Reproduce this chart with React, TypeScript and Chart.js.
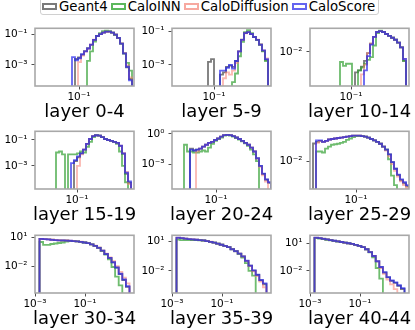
import React, { useEffect, useRef } from "react";
import { Chart, registerables } from "chart.js";

Chart.register(...registerables);

const seriesNames = ["Geant4", "CaloINN", "CaloDiffusion", "CaloScore"];
const seriesColors = [
  "rgba(100,100,100,0.85)",
  "rgba(50,160,50,0.7)",
  "rgba(248,128,114,0.55)",
  "rgba(35,35,235,0.7)",
];
const legendColors = ["#7a7a7a", "#5cb85c", "#f7a9a0", "#6464f0"];

const panelTitles = [
  "layer 0-4", "layer 5-9", "layer 10-14",
  "layer 15-19", "layer 20-24", "layer 25-29",
  "layer 30-34", "layer 35-39", "layer 40-44",
];

// axis ranges, as log10 exponents [min, max]
const xAxisExp = [
  [-2.1, 0.375], [-2.05, 0.425], [-2.025, 0.45],
  [-2.05, 0.425], [-2.1, 0.375], [-2.15, 0.325],
  [-3, 0.96], [-3, 0.96], [-3, 0.96],
];
const yAxisExp = [
  [-4.375, -0.625], [-4.275, -0.797], [-3.18, -1.18],
  [-4.78, -0.33], [-5.44, 0.256], [-3.16, -0.76],
  [-4.67, 1.196], [-4.23, 1.58], [-4.44, 1.92],
];
// labelled tick exponents
const xTickExp = [[-1], [-1], [-1], [-1], [-1], [-1], [-3, -1], [-3, -1], [-3, -1]];
const yTickExp = [[-1, -3], [-1, -3], [-2], [-1, -3], [0, -3], [-2], [1, -2], [1, -2], [1, -2]];
// histogram bin range, log10 of first and last edge
const binExp = [
  [-1.175, 0.325], [-1.15, 0.35], [-1.275, 0.375],
  [-1.525, 0.35], [-1.8, 0.375], [-2.075, 0.325],
  [-2.82, 0.78], [-2.82, 0.78], [-2.82, 0.78],
];

// layer 0-4
const geant4_0_4 = [0, 2.4e-3, 3.0e-3, 4.6e-3, 7.8e-3, 1.2e-2, 2.0e-2, 4.1e-2, 7.6e-2, 0.1, 0.125, 0.142, 0.144, 0.123, 0.094, 0.055, 0.024, 5.4e-3, 7e-4, 1.2e-4];
const caloINN_0_4 = [0, 0, 0, 0, 0, 1.8e-3, 7.5e-3, 0.032, 0.075, 0.115, 0.154, 0.165, 0.154, 0.124, 0.087, 0.056, 0.0237, 5.6e-3, 1.33e-3, 4.2e-4];
const caloDiff_0_4 = [0, 0, 1.5e-3, 4.0e-3, 7.2e-3, 1.1e-2, 2.1e-2, 4.3e-2, 7.4e-2, 0.1, 0.123, 0.143, 0.142, 0.125, 0.092, 0.057, 0.025, 6.0e-3, 9e-4, 1.5e-4];
const caloScore_0_4 = [3.2e-3, 2.0e-3, 2.7e-3, 4.9e-3, 7.5e-3, 1.15e-2, 2.05e-2, 4.2e-2, 7.5e-2, 0.1, 0.124, 0.143, 0.143, 0.124, 0.093, 0.056, 0.0237, 5.6e-3, 7.5e-4, 1e-4];

// layer 5-9
const geant4_5_9 = [1.5e-3, 2.2e-3, 0, 0, 2.6e-4, 3.5e-4, 7.6e-4, 9e-4, 7.6e-4, 1.7e-3, 6.5e-3, 0.033, 0.083, 0.093, 0.072, 0.047, 0.032, 0.0162, 7.0e-3, 2.0e-3];
const caloINN_5_9 = [0, 0, 0, 0, 0, 0, 0, 0, 9e-5, 3.0e-4, 3.3e-3, 0.0245, 0.094, 0.122, 0.082, 0.048, 0.032, 0.0165, 6.5e-3, 1.7e-3];
const caloDiff_5_9 = [0, 0, 0, 0, 0, 1.55e-4, 3.5e-4, 2.6e-4, 4.5e-4, 1.3e-3, 6.5e-3, 0.031, 0.08, 0.094, 0.073, 0.049, 0.033, 0.017, 7.5e-3, 2.4e-3];
const caloScore_5_9 = [0, 0, 0, 0, 4.5e-4, 4.5e-4, 6.7e-4, 1.0e-3, 5.9e-4, 1.7e-3, 6.5e-3, 0.032, 0.082, 0.094, 0.072, 0.048, 0.032, 0.0165, 7.4e-3, 2.2e-3];

// layer 10-14
const geant4_10_14 = [0, 0, 0, 0, 0, 1.95e-3, 2.3e-3, 3.1e-3, 4.9e-3, 9.1e-3, 0.0195, 0.0334, 0.049, 0.0528, 0.049, 0.042, 0.036, 0.031, 0.0265, 0.021, 0.0144, 4.9e-3];
const caloINN_10_14 = [4.5e-3, 3.3e-3, 3.9e-3, 3.9e-3, 0, 0, 2.3e-3, 2.9e-3, 3.9e-3, 5.3e-3, 6.65e-3, 0.0167, 0.045, 0.055, 0.049, 0.042, 0.036, 0.031, 0.0265, 0.021, 0.0144, 4.9e-3];
const caloDiff_10_14 = [0, 0, 0, 0, 0, 0, 0, 1.67e-3, 3.6e-3, 9.1e-3, 0.0195, 0.0334, 0.049, 0.0528, 0.049, 0.042, 0.036, 0.031, 0.0265, 0.021, 0.0144, 5.7e-3];
const caloScore_10_14 = [0, 0, 0, 0, 0, 0, 0, 0, 2.3e-3, 7.2e-3, 0.018, 0.0334, 0.049, 0.0528, 0.049, 0.042, 0.036, 0.031, 0.0265, 0.021, 0.0144, 5.7e-3];

// layer 15-19
const geant4_15_19 = [0, 0, 0, 0, 0, 0, 2.35e-3, 4.6e-3, 9.2e-3, 0.018, 0.0506, 0.119, 0.198, 0.234, 0.215, 0.167, 0.119, 0.1, 0.0843, 0.071, 0.06, 0.035, 8.5e-3, 2.5e-4, 5e-5];
const caloINN_15_19 = [0.0109, 0.0129, 7.7e-3, 0, 7.7e-3, 7.7e-3, 7.7e-3, 9.2e-3, 0.0129, 0.0109, 0.0303, 0.071, 0.167, 0.234, 0.215, 0.167, 0.119, 0.1, 0.0843, 0.071, 0.0506, 0.0129, 1.0e-3, 5.5e-5, 0];
const caloDiff_15_19 = [0, 0, 0, 0, 0, 0, 0, 1.0e-3, 7.7e-3, 0.018, 0.0506, 0.119, 0.198, 0.234, 0.215, 0.167, 0.119, 0.1, 0.0843, 0.071, 0.06, 0.037, 1.0e-2, 3.5e-4, 4e-5];
const caloScore_15_19 = [0, 0, 0, 0, 0, 1.66e-3, 2.8e-3, 5.5e-3, 9.2e-3, 0.018, 0.0506, 0.119, 0.198, 0.234, 0.215, 0.167, 0.119, 0.1, 0.0843, 0.071, 0.06, 0.036, 9.2e-3, 3.0e-4, 6.5e-5];

// layer 20-24
const geant4_20_24 = [0, 0, 0.0352, 0.0228, 0.0283, 0.0352, 0.0546, 0.0845, 0.131, 0.163, 0.252, 0.35, 0.542, 0.753, 0.8, 0.753, 0.605, 0.436, 0.314, 0.203, 0.131, 0.0845, 0.0438, 0.0183, 3.8e-3, 6.5e-4, 1.1e-4, 3.0e-5, 1.5e-5];
const caloINN_20_24 = [0.0845, 0.0183, 0.0183, 0.0147, 0.0147, 0.0183, 0.0228, 0.0183, 0.0438, 0.105, 0.203, 0.314, 0.436, 0.675, 0.753, 0.675, 0.542, 0.39, 0.281, 0.182, 0.117, 0.068, 0.0283, 9.5e-3, 2.05e-3, 0, 0, 0, 0];
const caloDiff_20_24 = [0, 0, 0, 0, 0.0183, 0.0352, 0.0546, 0.0845, 0.131, 0.163, 0.252, 0.35, 0.542, 0.753, 0.8, 0.753, 0.605, 0.436, 0.314, 0.203, 0.131, 0.0845, 0.0438, 0.0183, 3.6e-3, 5.5e-4, 8e-5, 2.0e-5, 0];
const caloScore_20_24 = [0, 0, 0.0283, 0.0228, 0.0283, 0.0352, 0.0546, 0.0845, 0.131, 0.163, 0.252, 0.35, 0.542, 0.753, 0.8, 0.753, 0.605, 0.436, 0.314, 0.203, 0.131, 0.0845, 0.0438, 0.0183, 3.95e-3, 6.9e-4, 1.2e-4, 3.2e-5, 1.67e-5];

// layer 25-29
const geant4_25_29 = [0.054, 0.063, 0.0692, 0.063, 0.0692, 0.0794, 0.0832, 0.0871, 0.0912, 0.0955, 0.1, 0.105, 0.11, 0.115, 0.115, 0.115, 0.11, 0.105, 0.0955, 0.0832, 0.0724, 0.063, 0.0525, 0.0398, 0.0302, 0.019, 9.1e-3, 4.8e-3, 2.6e-3, 1.6e-3, 1.2e-3, 9e-4];
const caloINN_25_29 = [0, 0.0251, 0.0251, 0.0229, 0.0331, 0.0398, 0.0479, 0.0501, 0.0525, 0.0575, 0.063, 0.0759, 0.0871, 0.1, 0.11, 0.11, 0.11, 0.105, 0.0955, 0.0832, 0.0724, 0.063, 0.0525, 0.0398, 0.0302, 0.012, 2.5e-3, 1.0e-3, 0, 0, 0, 0];
const caloDiff_25_29 = [0, 0.0575, 0.0692, 0.063, 0.0692, 0.0794, 0.0832, 0.0871, 0.0912, 0.0955, 0.1, 0.105, 0.11, 0.115, 0.115, 0.115, 0.11, 0.105, 0.0955, 0.0832, 0.0724, 0.063, 0.0525, 0.0398, 0.0275, 0.0158, 7.6e-3, 3.98e-3, 2.3e-3, 1.45e-3, 1.0e-3, 7.6e-4];
const caloScore_25_29 = [0, 0.0724, 0.0724, 0.063, 0.0692, 0.0794, 0.0832, 0.0871, 0.0912, 0.0955, 0.1, 0.105, 0.11, 0.115, 0.115, 0.115, 0.11, 0.105, 0.0955, 0.0832, 0.0724, 0.063, 0.0525, 0.0398, 0.0302, 0.019, 9.1e-3, 4.8e-3, 2.75e-3, 1.74e-3, 1.32e-3, 1.0e-3];

// layer 30-34
const geant4_30_34 = [6.6, 6.5, 6.0, 5.5, 5.0, 4.8, 4.7, 4.6, 4.3, 4.1, 3.8, 3.4, 2.9, 2.5, 1.85, 1.3, 0.85, 0.43, 0.19, 0.077, 0.028, 8.0e-3, 1.8e-3, 4.5e-4, 9e-5];
const caloINN_30_34 = [3.24, 1.65, 1.65, 2.07, 2.32, 2.59, 2.9, 3.63, 4.06, 4.06, 3.8, 3.4, 2.9, 2.48, 1.85, 1.32, 0.84, 0.383, 0.174, 0.0565, 9.3e-3, 9.8e-4, 1.29e-4, 0, 0];
const caloDiff_30_34 = [6.9, 6.5, 6.1, 5.6, 5.2, 4.9, 4.8, 4.6, 4.4, 4.1, 3.85, 3.45, 2.95, 2.5, 1.9, 1.35, 0.86, 0.44, 0.218, 0.0885, 0.036, 0.0117, 3.0e-3, 7.9e-4, 2.05e-4];
const caloScore_30_34 = [6.8, 6.4, 5.95, 5.44, 5.09, 4.76, 4.76, 4.55, 4.35, 4.06, 3.8, 3.4, 2.9, 2.48, 1.85, 1.32, 0.84, 0.428, 0.195, 0.079, 0.0287, 8.3e-3, 1.92e-3, 5.0e-4, 1.04e-4];

// layer 35-39
const geant4_35_39 = [21, 19.8, 17.2, 15.8, 14.4, 13.6, 12.6, 11.5, 10.1, 8.3, 6.9, 5.4, 4.3, 3.25, 2.45, 1.52, 0.95, 0.55, 0.28, 0.102, 0.033, 0.0105, 3.8e-3, 1.1e-3, 4.5e-4];
const caloINN_35_39 = [14, 12.5, 12.5, 12.5, 12.5, 12.5, 12.2, 11.5, 10, 8.4, 6.85, 5.48, 4.29, 3.28, 2.45, 1.5, 0.96, 0.5, 0.22, 0.0593, 0.01, 3.27e-3, 0, 0, 0];
const caloDiff_35_39 = [22.5, 19.8, 17.6, 15.5, 14.7, 13.8, 12.6, 11.8, 10.1, 8.5, 6.9, 5.5, 4.3, 3.3, 2.45, 1.5, 0.96, 0.55, 0.28, 0.1, 0.03, 8.9e-3, 2.95e-3, 8.5e-4, 2.24e-4];
const caloScore_35_39 = [21.8, 19.5, 17.5, 15.6, 14.6, 13.7, 12.5, 11.7, 10, 8.4, 6.85, 5.48, 4.29, 3.28, 2.45, 1.5, 0.96, 0.552, 0.283, 0.104, 0.034, 0.0111, 4.09e-3, 1.2e-3, 5.5e-4];

// layer 40-44
const geant4_40_44 = [44, 40, 34.5, 29, 25, 21, 18.2, 15, 12.9, 11.1, 9.2, 7.3, 5.6, 4.1, 2.4, 1.15, 0.43, 0.11, 0.025, 6.5e-3, 1.9e-3, 8e-4, 4.8e-4, 2.2e-4, 1.0e-4];
const caloINN_40_44 = [40, 36, 31, 27, 23, 19.5, 17, 14.5, 12.4, 10.8, 9.2, 7.2, 5.6, 4.1, 2.4, 1.1, 0.305, 0.0207, 1.41e-3, 0, 0, 0, 0, 0, 0];
const caloDiff_40_44 = [46, 41, 34, 29.5, 24.5, 20.5, 17.8, 15.2, 12.7, 10.9, 9.2, 7.2, 5.6, 4.1, 2.4, 1.15, 0.43, 0.11, 0.0207, 4.8e-3, 1.1e-3, 3.3e-4, 9.6e-5, 0, 0];
const caloScore_40_44 = [45.4, 40.2, 33.9, 29.3, 24.7, 20.8, 18.0, 15.1, 12.8, 11.0, 9.3, 7.28, 5.7, 4.15, 2.43, 1.17, 0.44, 0.115, 0.0265, 7.0e-3, 2.04e-3, 8.7e-4, 5.4e-4, 2.6e-4, 1.26e-4];

const panelValues = [
  [geant4_0_4, caloINN_0_4, caloDiff_0_4, caloScore_0_4],
  [geant4_5_9, caloINN_5_9, caloDiff_5_9, caloScore_5_9],
  [geant4_10_14, caloINN_10_14, caloDiff_10_14, caloScore_10_14],
  [geant4_15_19, caloINN_15_19, caloDiff_15_19, caloScore_15_19],
  [geant4_20_24, caloINN_20_24, caloDiff_20_24, caloScore_20_24],
  [geant4_25_29, caloINN_25_29, caloDiff_25_29, caloScore_25_29],
  [geant4_30_34, caloINN_30_34, caloDiff_30_34, caloScore_30_34],
  [geant4_35_39, caloINN_35_39, caloDiff_35_39, caloScore_35_39],
  [geant4_40_44, caloINN_40_44, caloDiff_40_44, caloScore_40_44],
];

// layout
const colLeft = [35, 172, 310];
const rowTop = [26, 129, 233];
const BOX_W = 99;
const BOX_H = 60;
const PAD_L = 35;
const PAD_T = 8;
const PAD_R = 8;
const PAD_B = 20;
const FONT = "'DejaVu Sans', 'Liberation Sans', sans-serif";

const SUP: Record<string, string> = {
  "-": "\u207B", "0": "\u2070", "1": "\u00B9", "2": "\u00B2", "3": "\u00B3",
  "4": "\u2074", "5": "\u2075", "6": "\u2076", "7": "\u2077", "8": "\u2078", "9": "\u2079",
};
function fmtPow(v: number): string {
  const e = Math.round(Math.log10(v));
  return "10" + String(e).split("").map((c) => SUP[c] || c).join("");
}

const spinePlugin = {
  id: "spines",
  afterDatasetsDraw(chart: any) {
    const { ctx, chartArea: a } = chart;
    ctx.save();
    ctx.strokeStyle = "#a8a8a8";
    ctx.lineWidth = 1.6;
    ctx.strokeRect(a.left, a.top, a.right - a.left, a.bottom - a.top);
    ctx.restore();
  },
};

function Panel({ idx }: { idx: number }) {
  const ref = useRef<HTMLCanvasElement | null>(null);
  const r = Math.floor(idx / 3);
  const c = idx % 3;
  useEffect(() => {
    if (!ref.current) return;
    const [lo, hi] = binExp[idx];
    const vals = panelValues[idx];
    const n = vals[0].length;
    const edges: number[] = [];
    for (let i = 0; i <= n; i++) edges.push(Math.pow(10, lo + ((hi - lo) * i) / n));
    const floor = Math.pow(10, yAxisExp[idx][0] - 4);
    const datasets = vals.map((arr, s) => {
      const pts: { x: number; y: number }[] = [{ x: edges[0], y: floor }];
      arr.forEach((v, i) => {
        const y = v > 0 ? v : floor;
        pts.push({ x: edges[i], y });
        pts.push({ x: edges[i + 1], y });
      });
      pts.push({ x: edges[n], y: floor });
      return {
        label: seriesNames[s],
        data: pts,
        borderColor: seriesColors[s],
        backgroundColor: seriesColors[s],
        borderWidth: 1.85,
        pointRadius: 0,
        fill: false,
        tension: 0,
        clip: 0,
        order: 4 - s,
      };
    });
    const tickFont = { family: FONT, size: 10.5 };
    const chart = new Chart(ref.current, {
      type: "line",
      data: { datasets: datasets as any },
      options: {
        animation: false,
        responsive: false,
        maintainAspectRatio: false,
        devicePixelRatio: 1,
        events: [],
        layout: { padding: { top: PAD_T, right: PAD_R, left: 0, bottom: 0 } },
        plugins: {
          legend: { display: false },
          tooltip: { enabled: false },
          title: { display: false },
        },
        scales: {
          x: {
            type: "logarithmic",
            min: Math.pow(10, xAxisExp[idx][0]),
            max: Math.pow(10, xAxisExp[idx][1]),
            bounds: "data",
            afterBuildTicks: (s: any) => {
              s.ticks = xTickExp[idx].map((e) => ({ value: Math.pow(10, e) }));
            },
            afterFit: (s: any) => {
              s.height = PAD_B;
            },
            ticks: {
              callback: (v: any) => fmtPow(Number(v)),
              autoSkip: false,
              maxRotation: 0,
              minRotation: 0,
              padding: 1,
              color: "#000",
              font: tickFont,
            },
            grid: { drawOnChartArea: false, drawTicks: true, tickLength: 3.5, color: "#222", lineWidth: 0.8 },
            border: { display: false },
          },
          y: {
            type: "logarithmic",
            min: Math.pow(10, yAxisExp[idx][0]),
            max: Math.pow(10, yAxisExp[idx][1]),
            bounds: "data",
            afterBuildTicks: (s: any) => {
              s.ticks = yTickExp[idx].map((e) => ({ value: Math.pow(10, e) }));
            },
            afterFit: (s: any) => {
              s.width = PAD_L;
            },
            ticks: {
              callback: (v: any) => fmtPow(Number(v)),
              autoSkip: false,
              padding: 4,
              color: "#000",
              font: tickFont,
            },
            grid: { drawOnChartArea: false, drawTicks: true, tickLength: 3.5, color: "#222", lineWidth: 0.8 },
            border: { display: false },
          },
        },
      } as any,
      plugins: [spinePlugin],
    });
    return () => chart.destroy();
  }, [idx]);
  const w = PAD_L + BOX_W + PAD_R;
  const h = PAD_T + BOX_H + PAD_B;
  return (
    <canvas
      ref={ref}
      width={w}
      height={h}
      style={{ position: "absolute", left: colLeft[c] - PAD_L, top: rowTop[r] - PAD_T, width: w, height: h }}
    />
  );
}

function Legend() {
  return (
    <div
      style={{
        position: "absolute",
        left: 40,
        top: -3,
        width: 339,
        height: 18,
        boxSizing: "border-box",
        border: "1px solid #d0d0d0",
        borderRadius: 3,
        display: "flex",
        alignItems: "center",
        paddingLeft: 1,
        fontFamily: FONT,
        fontSize: 13.3,
        color: "#000",
        background: "rgba(255,255,255,0.8)",
        whiteSpace: "nowrap",
      }}
    >
      {seriesNames.map((name, i) => (
        <React.Fragment key={name}>
          <span
            style={{
              display: "inline-block",
              width: 15,
              height: 7,
              boxSizing: "border-box",
              border: `2px solid ${legendColors[i]}`,
              background: "#fff",
              marginRight: 2,
              flex: "none",
            }}
          />
          <span style={{ marginRight: 3, lineHeight: "normal" }}>{name}</span>
        </React.Fragment>
      ))}
    </div>
  );
}

export default function App() {
  return (
    <div
      style={{
        position: "absolute",
        left: 0,
        top: 0,
        width: 415,
        height: 330,
        background: "#fff",
        overflow: "hidden",
      }}
    >
      {panelTitles.map((_, i) => (
        <Panel key={i} idx={i} />
      ))}
      {panelTitles.map((t, i) => {
        const r = Math.floor(i / 3);
        const c = i % 3;
        return (
          <div
            key={"t" + i}
            style={{
              position: "absolute",
              left: colLeft[c] + BOX_W / 2 - 70,
              width: 140,
              top: rowTop[r] + BOX_H + 15.5,
              textAlign: "center",
              fontFamily: FONT,
              fontSize: 18,
              lineHeight: "18px",
              color: "#000",
              whiteSpace: "nowrap",
            }}
          >
            {t}
          </div>
        );
      })}
      <Legend />
    </div>
  );
}
